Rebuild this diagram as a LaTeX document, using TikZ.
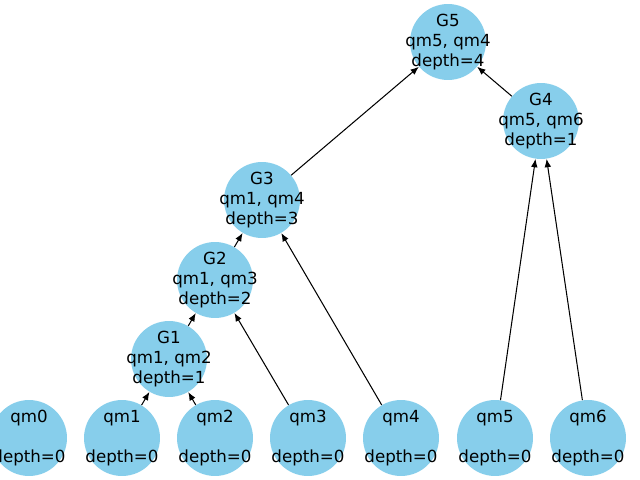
\documentclass[tikz,border=0pt]{standalone}
\usepackage{fontspec}
\setmainfont{DejaVu Sans}
\usetikzlibrary{arrows.meta}
\definecolor{sky}{HTML}{87CEEB}
\tikzset{
  gnode/.style={circle, fill=sky, minimum size=54.7pt, inner sep=0pt},
  txt/.style={align=center, inner sep=0pt, font=\fontsize{12}{14.6}\selectfont},
  edge/.style={-{Latex[length=6pt,width=4.8pt]}, line width=0.75pt, black}
}
\begin{document}
\begin{tikzpicture}[x=0.72pt, y=-0.72pt]
\useasboundingbox (0,0) rectangle (640,480);
\node[gnode, label={[txt]center:{qm0\\\mbox{}\\depth=0}}] (qm0) at (29,438) {};
\node[gnode, label={[txt]center:{qm1\\\mbox{}\\depth=0}}] (qm1) at (122,438) {};
\node[gnode, label={[txt]center:{qm2\\\mbox{}\\depth=0}}] (qm2) at (215,438) {};
\node[gnode, label={[txt]center:{qm3\\\mbox{}\\depth=0}}] (qm3) at (308,438) {};
\node[gnode, label={[txt]center:{qm4\\\mbox{}\\depth=0}}] (qm4) at (401,438) {};
\node[gnode, label={[txt]center:{qm5\\\mbox{}\\depth=0}}] (qm5) at (495,438) {};
\node[gnode, label={[txt]center:{qm6\\\mbox{}\\depth=0}}] (qm6) at (588,438) {};
\node[gnode, label={[txt]center:{G1\\qm1, qm2\\depth=1}}] (G1) at (169,359) {};
\node[gnode, label={[txt]center:{G2\\qm1, qm3\\depth=2}}] (G2) at (215,280) {};
\node[gnode, label={[txt]center:{G3\\qm1, qm4\\depth=3}}] (G3) at (262,200) {};
\node[gnode, label={[txt]center:{G5\\qm5, qm4\\depth=4}}] (G5) at (448,42) {};
\node[gnode, label={[txt]center:{G4\\qm5, qm6\\depth=1}}] (G4) at (541,121) {};
\draw[edge] (qm1) -- (G1);
\draw[edge] (qm2) -- (G1);
\draw[edge] (G1) -- (G2);
\draw[edge] (qm3) -- (G2);
\draw[edge] (G2) -- (G3);
\draw[edge] (qm4) -- (G3);
\draw[edge] (G3) -- (G5);
\draw[edge] (G4) -- (G5);
\draw[edge] (qm5) -- (G4);
\draw[edge] (qm6) -- (G4);
\end{tikzpicture}
\end{document}
